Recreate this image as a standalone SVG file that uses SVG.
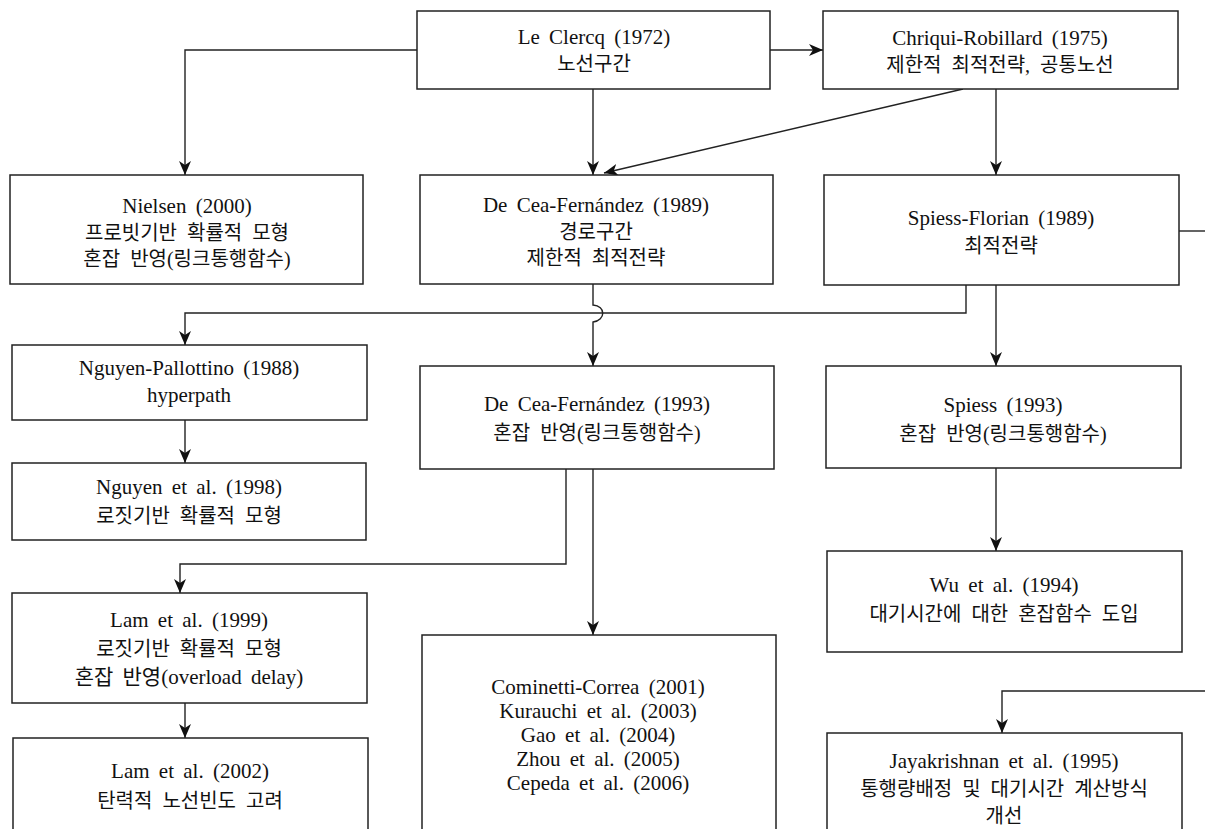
<svg xmlns="http://www.w3.org/2000/svg" width="1205" height="829" viewBox="0 0 1205 829">
<style>
.box{fill:#fff;stroke:#222;stroke-width:1.5}
.t{font-family:"Liberation Serif","Noto Sans CJK KR",serif;font-size:21px;fill:#111;text-anchor:middle;word-spacing:4px}
.k{font-size:20px;word-spacing:5px}
.c{fill:none;stroke:#222;stroke-width:1.4}
</style>
<defs>
<marker id="ah" viewBox="0 0 14 12" refX="14" refY="6" markerWidth="14" markerHeight="12" markerUnits="userSpaceOnUse" orient="auto">
<path d="M0,0 L14,6 L0,12 L4,6 z" fill="#111"/>
</marker>
</defs>
<rect width="1205" height="829" fill="#fff"/>
<g id="connectors">
<path class="c" d="M770,50 H823" marker-end="url(#ah)"/>
<path class="c" d="M417,50 H185 V175" marker-end="url(#ah)"/>
<path class="c" d="M593,89 V175" marker-end="url(#ah)"/>
<path class="c" d="M996,89 V175" marker-end="url(#ah)"/>
<path class="c" d="M963,89 L604,173" marker-end="url(#ah)"/>
<path class="c" d="M1179,231 H1205"/>
<path class="c" d="M966,285 V313 H185 V345" marker-end="url(#ah)"/>
<path class="c" d="M593,284 V305 C606,306 606,320 593,322 V366" marker-end="url(#ah)"/>
<path class="c" d="M996,285 V366" marker-end="url(#ah)"/>
<path class="c" d="M185,420 V463" marker-end="url(#ah)"/>
<path class="c" d="M566,469 V564 H180 V593" marker-end="url(#ah)"/>
<path class="c" d="M593,469 V635" marker-end="url(#ah)"/>
<path class="c" d="M185,703 V738" marker-end="url(#ah)"/>
<path class="c" d="M996,468 V551" marker-end="url(#ah)"/>
<path class="c" d="M1205,691 H1002 V733" marker-end="url(#ah)"/>
</g>
<g id="n-leclercq">
<rect class="box" x="417" y="11" width="353" height="78"/>
<text class="t" x="594" y="44">Le Clercq (1972)</text>
<text class="t k" x="594" y="71">노선구간</text>
</g>
<g id="n-chriqui">
<rect class="box" x="823" y="11" width="355" height="78"/>
<text class="t" x="1000" y="45">Chriqui-Robillard (1975)</text>
<text class="t k" x="1000" y="72">제한적 최적전략, 공통노선</text>
</g>
<g id="n-nielsen">
<rect class="box" x="10" y="175" width="353" height="109"/>
<text class="t" x="187" y="213">Nielsen (2000)</text>
<text class="t k" x="187" y="240">프로빗기반 확률적 모형</text>
<text class="t k" x="187" y="266">혼잡 반영(링크통행함수)</text>
</g>
<g id="n-decea1989">
<rect class="box" x="420" y="175" width="353" height="109"/>
<text class="t" x="596" y="212">De Cea-Fernández (1989)</text>
<text class="t k" x="596" y="239">경로구간</text>
<text class="t k" x="596" y="265">제한적 최적전략</text>
</g>
<g id="n-spiessflorian">
<rect class="box" x="824" y="175" width="355" height="110"/>
<text class="t" x="1001" y="225">Spiess-Florian (1989)</text>
<text class="t k" x="1001" y="253">최적전략</text>
</g>
<g id="n-nguyenpallottino">
<rect class="box" x="12" y="345" width="355" height="75"/>
<text class="t" x="189" y="375">Nguyen-Pallottino (1988)</text>
<text class="t" x="189" y="402">hyperpath</text>
</g>
<g id="n-decea1993">
<rect class="box" x="420" y="366" width="354" height="103"/>
<text class="t" x="597" y="411">De Cea-Fernández (1993)</text>
<text class="t k" x="597" y="440">혼잡 반영(링크통행함수)</text>
</g>
<g id="n-spiess1993">
<rect class="box" x="826" y="366" width="355" height="102"/>
<text class="t" x="1003" y="412">Spiess (1993)</text>
<text class="t k" x="1003" y="441">혼잡 반영(링크통행함수)</text>
</g>
<g id="n-nguyen1998">
<rect class="box" x="12" y="463" width="354" height="77"/>
<text class="t" x="189" y="494">Nguyen et al. (1998)</text>
<text class="t k" x="189" y="523">로짓기반 확률적 모형</text>
</g>
<g id="n-lam1999">
<rect class="box" x="12" y="593" width="355" height="110"/>
<text class="t" x="189" y="627">Lam et al. (1999)</text>
<text class="t k" x="189" y="656">로짓기반 확률적 모형</text>
<text class="t" x="189" y="684">혼잡 반영(overload delay)</text>
</g>
<g id="n-lam2002">
<rect class="box" x="13" y="738" width="355" height="110"/>
<text class="t" x="190" y="778">Lam et al. (2002)</text>
<text class="t k" x="190" y="808">탄력적 노선빈도 고려</text>
</g>
<g id="n-cominetti">
<rect class="box" x="422" y="635" width="354" height="210"/>
<text class="t" x="598" y="694">Cominetti-Correa (2001)</text>
<text class="t" x="598" y="718">Kurauchi et al. (2003)</text>
<text class="t" x="598" y="742">Gao et al. (2004)</text>
<text class="t" x="598" y="766">Zhou et al. (2005)</text>
<text class="t" x="598" y="790">Cepeda et al. (2006)</text>
</g>
<g id="n-wu">
<rect class="box" x="827" y="551" width="355" height="101"/>
<text class="t" x="1004" y="592">Wu et al. (1994)</text>
<text class="t k" x="1004" y="621">대기시간에 대한 혼잡함수 도입</text>
</g>
<g id="n-jayakrishnan">
<rect class="box" x="827" y="733" width="355" height="110"/>
<text class="t" x="1004" y="768">Jayakrishnan et al. (1995)</text>
<text class="t k" x="1004" y="796">통행량배정 및 대기시간 계산방식</text>
<text class="t k" x="1004" y="823">개선</text>
</g>
</svg>
